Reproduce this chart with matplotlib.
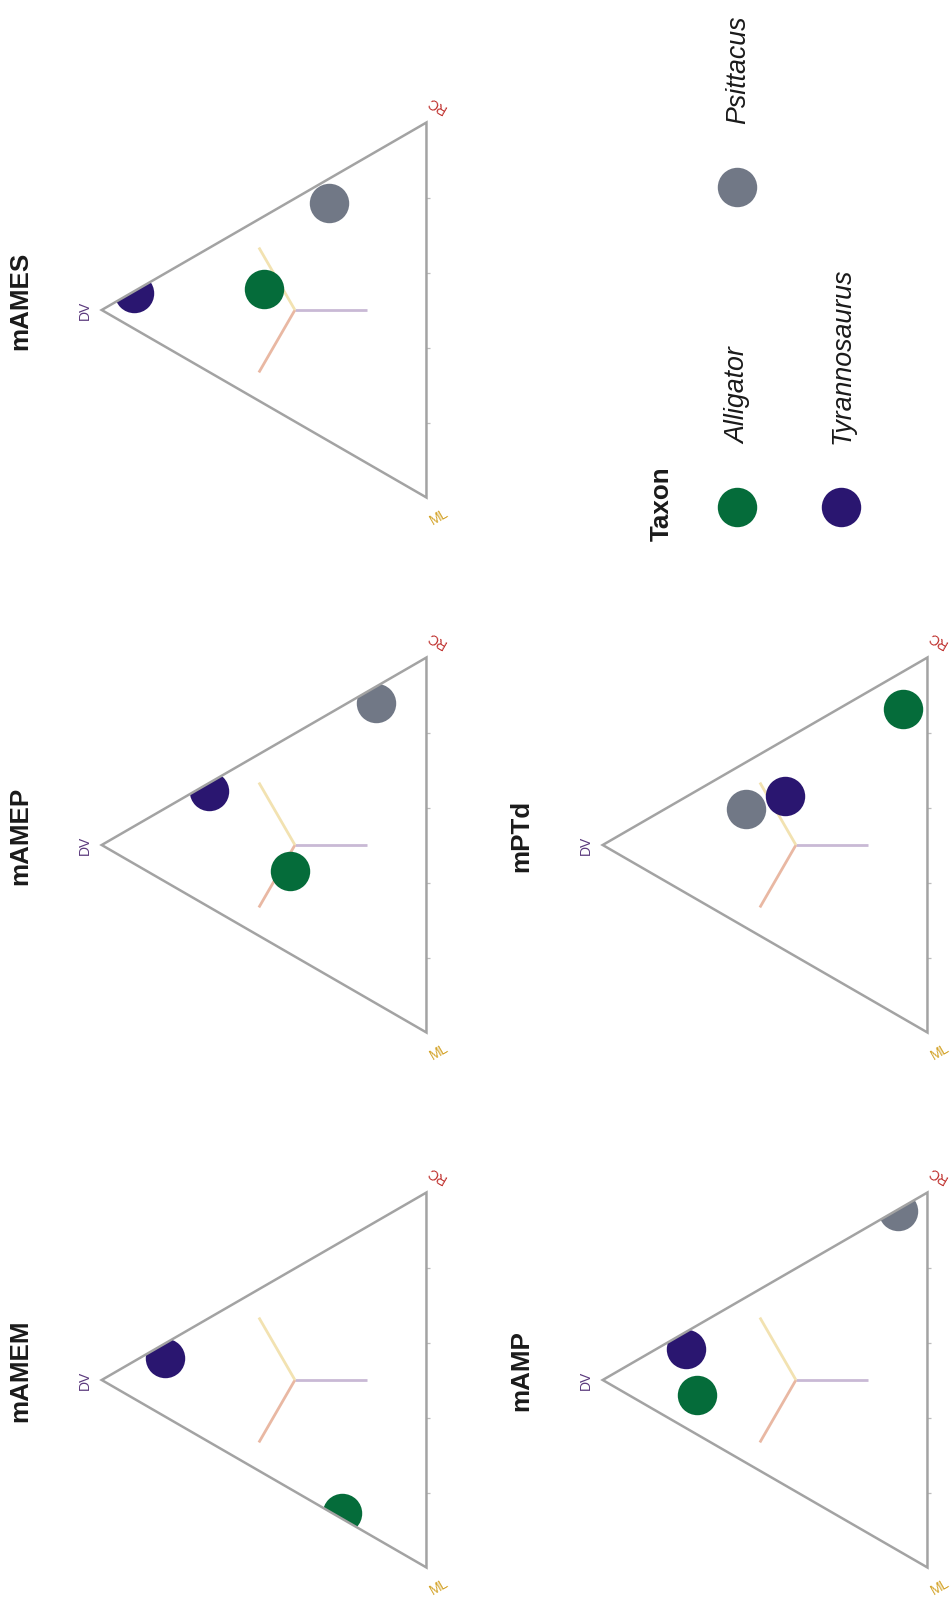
import numpy as np
import matplotlib
matplotlib.use("Agg")
import matplotlib.pyplot as plt
from matplotlib.patches import Polygon

plt.rcParams["font.family"] = ["Liberation Sans", "DejaVu Sans"]

# ---------------------------------------------------------------- data
# facets in the order of the per-taxon arrays below
panels = ["mAMEM", "mAMEP", "mAMES", "mAMP", "mPTd"]
taxa = ["Alligator", "Psittacus", "Tyrannosaurus"]

# compositions per facet (DV, RC, ML); nan = taxon absent from that facet
alligator_dv = [0.26, 0.42, 0.50, 0.71, 0.075]
alligator_rc = [0.015, 0.22, 0.305, 0.105, 0.825]
alligator_ml = [0.725, 0.36, 0.195, 0.185, 0.10]

psittacus_dv = [np.nan, 0.155, 0.30, 0.09, 0.56]
psittacus_rc = [np.nan, 0.80, 0.635, 0.905, 0.315]
psittacus_ml = [np.nan, 0.045, 0.065, 0.005, 0.125]

tyrannosaurus_dv = [0.805, 0.67, 0.90, 0.745, 0.44]
tyrannosaurus_rc = [0.155, 0.31, 0.095, 0.21, 0.41]
tyrannosaurus_ml = [0.04, 0.02, 0.005, 0.045, 0.15]

taxon_colors = ["#056c3a", "#717886", "#2a1670"]

# reference composition marked by three arms, one per component
centre_dv, centre_rc, centre_ml = 0.405, 0.2975, 0.2975
arm_length = 0.222

axis_names = ["DV", "RC", "ML"]
axis_colors = ["#5b3a7d", "#bf2f2c", "#d3a226"]
arm_colors = ["#c9b9d5", "#e9b8a3", "#f2e2b1"]
tick_breaks = [0.2, 0.4, 0.6, 0.8]

series = {
    "Alligator": (alligator_dv, alligator_rc, alligator_ml),
    "Psittacus": (psittacus_dv, psittacus_rc, psittacus_ml),
    "Tyrannosaurus": (tyrannosaurus_dv, tyrannosaurus_rc, tyrannosaurus_ml),
}

# -------------------------------------------------------------- layout
W, H = 951, 1598
S = 375.0                        # pixels per ternary unit
R3 = np.sqrt(3.0)
col_dv_x = [101.7, 602.7]        # pixel x of the DV apex in each column
row_yc = [310.0, 845.0, 1380.0]  # pixel y of the DV apex in each row
panel_cell = {"mAMES": (0, 0), "mAMEP": (0, 1), "mAMEM": (0, 2),
              "mPTd": (1, 1), "mAMP": (1, 2)}
pad_l, pad_r, pad_v = 85.0, 60.0, 245.0
title_dx, title_dy = -81.0, -9.5

edge_grey = "#a3a3a3"
point_size = 806
title_size = 18.7
legend_text_size = 19.3


def project(dv, rc, ml):
    """Ternary composition -> plane coordinates, DV apex pointing left."""
    dv, rc, ml = (np.asarray(a, dtype=float) for a in (dv, rc, ml))
    tot = dv + rc + ml
    dv, rc = dv / tot, rc / tot
    return -dv * R3 / 2.0, rc + dv / 2.0 - 0.5


fig = plt.figure(figsize=(W / 100, H / 100), dpi=100)
fig.patch.set_facecolor("white")

# full-figure layer in pixel units for strip titles and the legend
ax0 = fig.add_axes([0, 0, 1, 1])
ax0.set_xlim(0, W)
ax0.set_ylim(H, 0)
ax0.axis("off")

vertex_comp = [(1, 0, 0), (0, 1, 0), (0, 0, 1)]
label_offsets = [(-17, 0), (9.5, 18.5), (13, -19)]
label_rot = [90, 150, 30]

for name in panels:
    c, r = panel_cell[name]
    xd, yc = col_dv_x[c], row_yc[r]
    left_px = xd - pad_l
    right_px = xd + S * R3 / 2.0 + pad_r
    bottom_px = yc + pad_v
    ax = fig.add_axes([left_px / W, 1 - bottom_px / H,
                       (right_px - left_px) / W, 2 * pad_v / H])
    ax.set_xlim(-R3 / 2.0 - pad_l / S, pad_r / S)
    ax.set_ylim(-pad_v / S, pad_v / S)
    ax.axis("off")

    verts = np.column_stack(project(*np.array(vertex_comp).T))
    clip = Polygon(verts, closed=True, fill=False, lw=0, transform=ax.transData)
    ax.add_patch(clip)
    border = Polygon(verts, closed=True, fill=False, ec=edge_grey, lw=1.8,
                     joinstyle="miter", zorder=5)
    ax.add_patch(border)

    # ticks on the RC-ML edge
    tu, tv = project(np.zeros(len(tick_breaks)), tick_breaks,
                     1 - np.array(tick_breaks))
    ax.plot(tu, tv, ls="none", marker=1, ms=3, mew=0.9, color="#bdbdbd",
            zorder=4)

    # centre arms
    centre = np.array([centre_dv, centre_rc, centre_ml])
    for k in range(3):
        end = centre + arm_length / 2.0
        end[k] = centre[k] - arm_length
        cu, cv = project(*centre)
        eu, ev = project(*end)
        ax.plot([cu, eu], [cv, ev], color=arm_colors[k], lw=2.0,
                solid_capstyle="butt", zorder=2)

    # taxa
    i = panels.index(name)
    for taxon, col in zip(taxa, taxon_colors):
        dv, rc, ml = (arr[i] for arr in series[taxon])
        if np.isnan(dv):
            continue
        u, v = project(dv, rc, ml)
        sc = ax.scatter([u], [v], s=point_size, color=col, lw=0, zorder=3)
        sc.set_clip_path(clip)

    # vertex labels
    for k in range(3):
        vu, vv = verts[k]
        ax.annotate(axis_names[k], xy=(vu, vv), xycoords="data",
                    xytext=label_offsets[k], textcoords="offset pixels",
                    ha="center", va="center", rotation=label_rot[k],
                    rotation_mode="anchor", fontsize=10,
                    color=axis_colors[k])

    # strip title
    ax0.text(xd + title_dx, yc + title_dy, name, rotation=90, ha="center",
             va="center", fontsize=title_size, fontweight="bold",
             color="#1a1a1a")

# ---------------------------------------------------------------- legend
leg_title_x, leg_title_y = 662.0, 541.0
key_x0, key_y0 = 736.7, 506.5
row_step, col_step = 104.3, 319.8
key_label_gap = 63.0
legend_cell = {"Alligator": (0, 0), "Psittacus": (0, 1), "Tyrannosaurus": (1, 0)}

ax0.text(leg_title_x, leg_title_y, "Taxon", rotation=90, ha="left",
         va="center", rotation_mode="anchor", fontsize=title_size,
         fontweight="bold", color="#1a1a1a")
for taxon, col in zip(taxa, taxon_colors):
    rr, cc = legend_cell[taxon]
    kx = key_x0 + rr * row_step
    ky = key_y0 - cc * col_step
    ax0.scatter([kx], [ky], s=point_size, color=col, lw=0)
    ax0.text(kx + 1.5, ky - key_label_gap, taxon, rotation=90, ha="left",
             va="center", rotation_mode="anchor", fontsize=legend_text_size,
             fontstyle="italic", color="#1a1a1a")

fig.savefig("out.png", dpi=100, facecolor="white")
